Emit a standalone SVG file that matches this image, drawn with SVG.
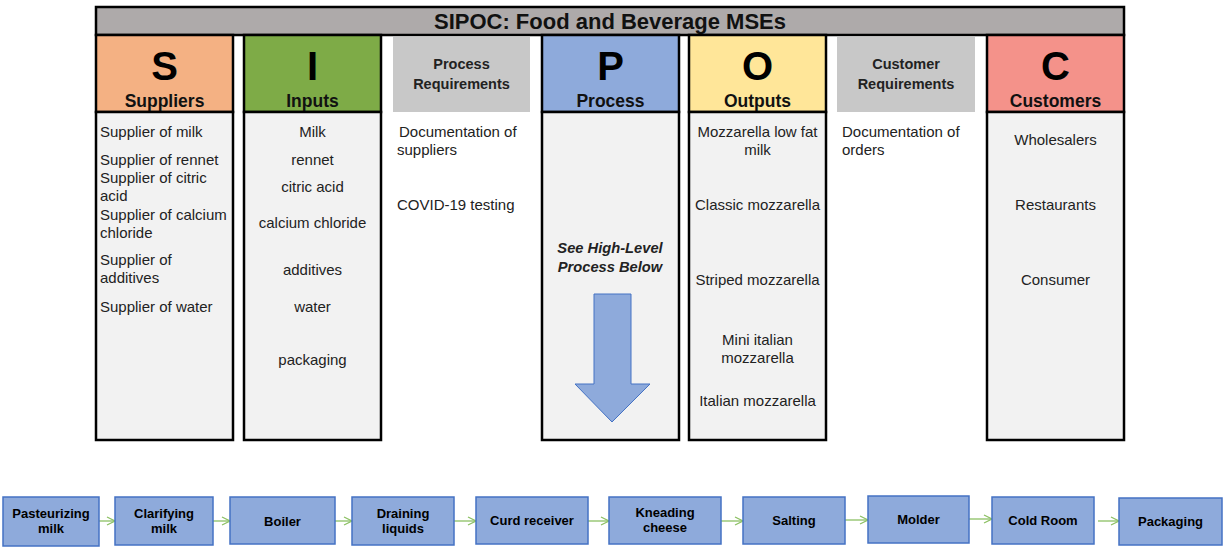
<svg xmlns="http://www.w3.org/2000/svg" width="1225" height="550" viewBox="0 0 1225 550">
<style>
.col{stroke:#000;stroke-width:2.5}
.body{fill:#f2f2f2}
.big{font-family:"Liberation Sans",Arial,sans-serif;font-weight:bold;font-size:40px;fill:#000;text-anchor:middle}
.lab{font-family:"Liberation Sans",Arial,sans-serif;font-weight:bold;font-size:17.5px;fill:#111;text-anchor:middle}
.req{font-family:"Liberation Sans",Arial,sans-serif;font-weight:bold;font-size:14.5px;fill:#222;text-anchor:middle}
.t{font-family:"Liberation Sans",Arial,sans-serif;font-size:15px;fill:#222}
.c{text-anchor:middle}
.pbox{fill:#8eaadb;stroke:#4472c4;stroke-width:1.5}
.pt{font-family:"Liberation Sans",Arial,sans-serif;font-weight:bold;font-size:13px;fill:#000;text-anchor:middle}
.conn{stroke:#8cc063;stroke-width:1.3;fill:none}
</style>
<defs>
<marker id="ah" markerWidth="10" markerHeight="10" refX="9" refY="5" orient="auto" markerUnits="userSpaceOnUse">
<path d="M1,1 L9,5 L1,9" fill="none" stroke="#8cc063" stroke-width="1.3"/>
</marker>
</defs>
<rect width="1225" height="550" fill="#fff"/>

<g id="title">
<rect x="96" y="7" width="1028" height="28" fill="#aeaaaa" class="col"/>
<text x="610" y="29" font-family="Liberation Sans,Arial,sans-serif" font-weight="bold" font-size="22" text-anchor="middle" fill="#111">SIPOC: Food and Beverage MSEs</text>
</g>

<g id="suppliers">
<rect x="96" y="35" width="137" height="77" fill="#f4b183" class="col"/>
<rect x="96" y="112" width="137" height="328" class="col body"/>
<text x="164.5" y="80" class="big">S</text>
<text x="164.5" y="107" class="lab">Suppliers</text>
<text class="t" x="100" y="137">Supplier of milk</text>
<text class="t" x="100" y="165">Supplier of rennet</text>
<text class="t" x="100" y="183">Supplier of citric</text>
<text class="t" x="100" y="201">acid</text>
<text class="t" x="100" y="220">Supplier of calcium</text>
<text class="t" x="100" y="238">chloride</text>
<text class="t" x="100" y="265">Supplier of</text>
<text class="t" x="100" y="283">additives</text>
<text class="t" x="100" y="312">Supplier of water</text>
</g>

<g id="inputs">
<rect x="244" y="35" width="137" height="77" fill="#7eab47" class="col"/>
<rect x="244" y="112" width="137" height="328" class="col body"/>
<text x="312.5" y="80" class="big">I</text>
<text x="312.5" y="107" class="lab">Inputs</text>
<text class="t c" x="312.5" y="137">Milk</text>
<text class="t c" x="312.5" y="165">rennet</text>
<text class="t c" x="312.5" y="192">citric acid</text>
<text class="t c" x="312.5" y="228">calcium chloride</text>
<text class="t c" x="312.5" y="275">additives</text>
<text class="t c" x="312.5" y="312">water</text>
<text class="t c" x="312.5" y="365">packaging</text>
</g>

<g id="process-requirements">
<rect x="393" y="37" width="137" height="75" fill="#c8c8c8"/>
<text x="461.5" y="69" class="req">Process</text>
<text x="461.5" y="89" class="req">Requirements</text>
<text class="t" x="399" y="137">Documentation of</text>
<text class="t" x="397" y="155">suppliers</text>
<text class="t" x="397" y="210">COVID-19 testing</text>
</g>

<g id="process">
<rect x="542" y="35" width="137" height="77" fill="#8eaadb" class="col"/>
<rect x="542" y="112" width="137" height="328" class="col body"/>
<text x="610.5" y="80" class="big">P</text>
<text x="610.5" y="107" class="lab">Process</text>
<text x="610" y="253" font-family="Liberation Sans,Arial,sans-serif" font-weight="bold" font-style="italic" font-size="14.7" text-anchor="middle" fill="#222">See High-Level</text>
<text x="610" y="272" font-family="Liberation Sans,Arial,sans-serif" font-weight="bold" font-style="italic" font-size="14.7" text-anchor="middle" fill="#222">Process Below</text>
<path d="M594,294 L631,294 L631,384 L650,384 L612,422 L575,384 L594,384 Z" fill="#8eaadb" stroke="#4472c4" stroke-width="1"/>
</g>

<g id="outputs">
<rect x="689" y="35" width="137" height="77" fill="#ffe699" class="col"/>
<rect x="689" y="112" width="137" height="328" class="col body"/>
<text x="757.5" y="80" class="big">O</text>
<text x="757.5" y="107" class="lab">Outputs</text>
<text class="t c" x="757.5" y="137">Mozzarella low fat</text>
<text class="t c" x="757.5" y="155">milk</text>
<text class="t c" x="757.5" y="210">Classic mozzarella</text>
<text class="t c" x="757.5" y="285">Striped mozzarella</text>
<text class="t c" x="757.5" y="345">Mini italian</text>
<text class="t c" x="757.5" y="363">mozzarella</text>
<text class="t c" x="757.5" y="406">Italian mozzarella</text>
</g>

<g id="customer-requirements">
<rect x="837" y="37" width="138" height="75" fill="#c8c8c8"/>
<text x="906" y="69" class="req">Customer</text>
<text x="906" y="89" class="req">Requirements</text>
<text class="t" x="842" y="137">Documentation of</text>
<text class="t" x="842" y="155">orders</text>
</g>

<g id="customers">
<rect x="987" y="35" width="137" height="77" fill="#f4928a" class="col"/>
<rect x="987" y="112" width="137" height="328" class="col body"/>
<text x="1055.5" y="80" class="big">C</text>
<text x="1055.5" y="107" class="lab">Customers</text>
<text class="t c" x="1055.5" y="145">Wholesalers</text>
<text class="t c" x="1055.5" y="210">Restaurants</text>
<text class="t c" x="1055.5" y="285">Consumer</text>
</g>

<g id="connectors">
<line class="conn" x1="99" y1="521" x2="115" y2="521" marker-end="url(#ah)"/>
<line class="conn" x1="213" y1="521" x2="230" y2="521" marker-end="url(#ah)"/>
<line class="conn" x1="335" y1="521" x2="352" y2="521" marker-end="url(#ah)"/>
<line class="conn" x1="454" y1="521" x2="476" y2="521" marker-end="url(#ah)"/>
<line class="conn" x1="588" y1="521" x2="609" y2="521" marker-end="url(#ah)"/>
<line class="conn" x1="721" y1="521" x2="743" y2="521" marker-end="url(#ah)"/>
<line class="conn" x1="845" y1="520" x2="868" y2="520" marker-end="url(#ah)"/>
<line class="conn" x1="969" y1="519" x2="992" y2="519" marker-end="url(#ah)"/>
<line class="conn" x1="1098" y1="521" x2="1119" y2="521" marker-end="url(#ah)"/>
</g>

<g id="step1"><rect class="pbox" x="3" y="497" width="96" height="49"/><text class="pt" x="51" y="518">Pasteurizing</text><text class="pt" x="51" y="533">milk</text></g>
<g id="step2"><rect class="pbox" x="115" y="497" width="98" height="48"/><text class="pt" x="164" y="518">Clarifying</text><text class="pt" x="164" y="533">milk</text></g>
<g id="step3"><rect class="pbox" x="230" y="497" width="105" height="47"/><text class="pt" x="282.5" y="526">Boiler</text></g>
<g id="step4"><rect class="pbox" x="352" y="497" width="102" height="48"/><text class="pt" x="403" y="518">Draining</text><text class="pt" x="403" y="533">liquids</text></g>
<g id="step5"><rect class="pbox" x="476" y="497" width="112" height="47"/><text class="pt" x="532" y="525">Curd receiver</text></g>
<g id="step6"><rect class="pbox" x="609" y="497" width="112" height="47"/><text class="pt" x="665" y="517">Kneading</text><text class="pt" x="665" y="532">cheese</text></g>
<g id="step7"><rect class="pbox" x="743" y="497" width="102" height="47"/><text class="pt" x="794" y="525">Salting</text></g>
<g id="step8"><rect class="pbox" x="868" y="496" width="101" height="47"/><text class="pt" x="918.5" y="524">Molder</text></g>
<g id="step9"><rect class="pbox" x="992" y="497" width="102" height="47"/><text class="pt" x="1043" y="525">Cold Room</text></g>
<g id="step10"><rect class="pbox" x="1119" y="498" width="103" height="47"/><text class="pt" x="1170.5" y="526">Packaging</text></g>
</svg>
